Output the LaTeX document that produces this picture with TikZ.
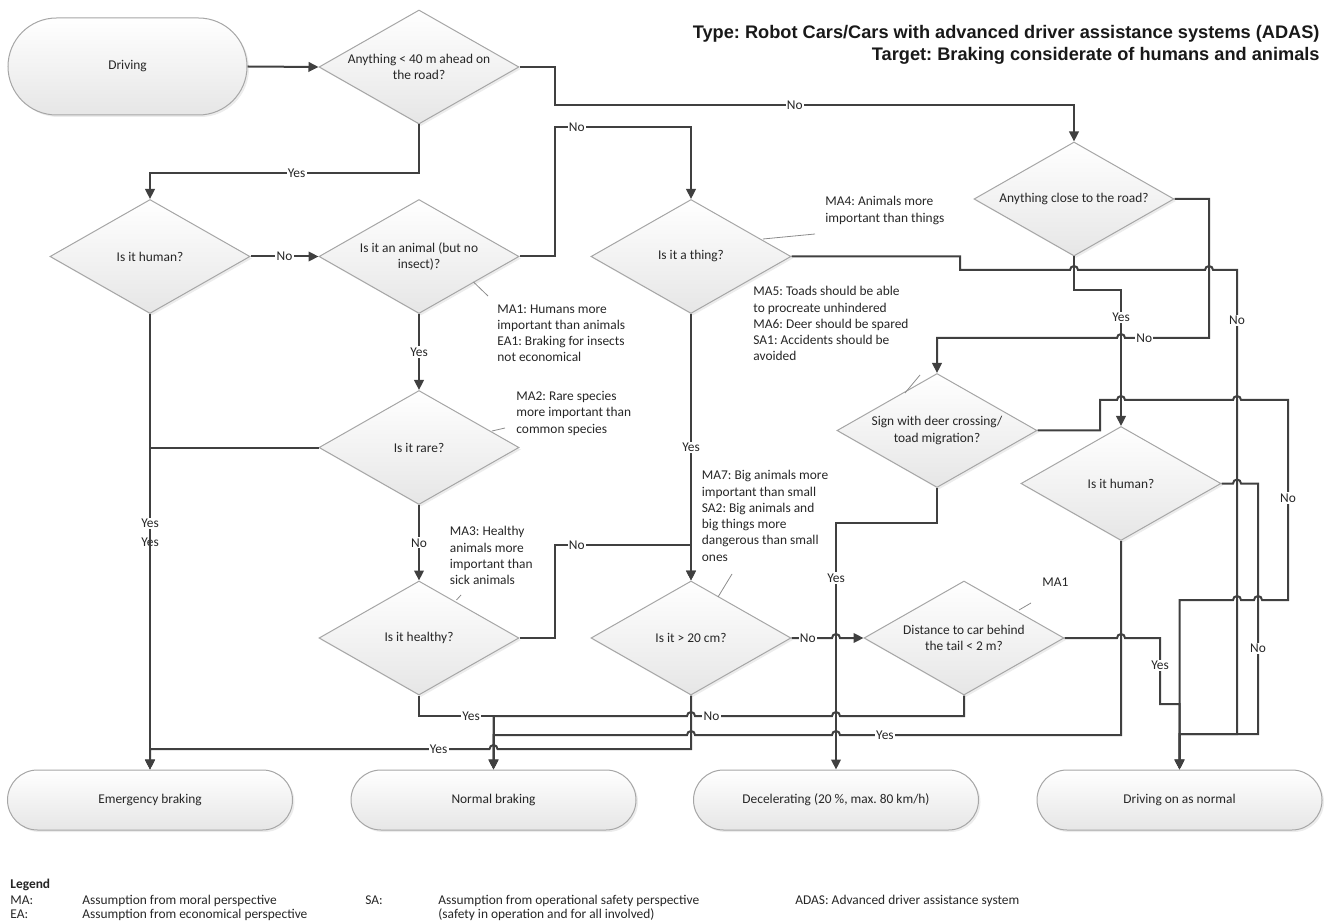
\documentclass[tikz,border=0pt]{standalone}
\usepackage{fontspec}
\setmainfont{Carlito}
\newfontfamily\titlefont{Liberation Sans}
\usetikzlibrary{shapes.geometric,shapes.misc,shadows,arrows.meta}
\frenchspacing

\definecolor{linegray}{HTML}{404040}
\definecolor{edgegray}{HTML}{A6A6A6}
\definecolor{fillgray}{HTML}{E6E6E6}
\definecolor{notegray}{HTML}{8C8C8C}

\begin{document}
\begin{tikzpicture}[x=0.5pt,y=-0.5pt,
			font=\fontsize{6.7pt}{8.15pt}\selectfont,text=black!85,
			box/.style={draw=edgegray,line width=0.5pt,top color=white,bottom color=fillgray,
				drop shadow={shadow xshift=1pt,shadow yshift=-1pt,opacity=0.15}},
			term/.style={box,rounded rectangle,minimum width=142.5pt,minimum height=30pt,inner sep=0pt},
			ask/.style={box,diamond,shape aspect=1.75,minimum width=100pt,minimum height=57pt,
				inner sep=0pt,align=center},
			flow/.style={draw=linegray,line width=1pt},
			arr/.style={flow,-{Triangle[length=5pt,width=4.8pt]}},
			lbl/.style={fill=white,inner sep=0.6pt},
			note/.style={anchor=north west,inner sep=0pt,align=left},
			callout/.style={draw=notegray,line width=0.4pt}]
			
			\useasboundingbox (0,0) rectangle (1331,924);
			
			% Title
			\node[anchor=north east,align=right,inner sep=0pt,text=black!90,
			font={\titlefont\bfseries\fontsize{9.1pt}{11pt}\selectfont}] (title) at (1320,25)
			{Type: Robot Cars/Cars with advanced driver assistance systems (ADAS)\\
				Target: Braking considerate of humans and animals};
			
			% Start and end states
			\node[term,minimum width=119.5pt,minimum height=48.5pt] (drv) at (127.5,66.5) {Driving};
			\node[term] (eb) at (150,800) {Emergency braking};
			\node[term] (nb) at (493.5,800) {Normal braking};
			\node[term] (dec) at (836,800) {Decelerating (20 \%, max. 80 km/h)};
			\node[term] (don) at (1179.5,800) {Driving on as normal};
			
			% Decisions
			\node[ask] (q1) at (419,67) {Anything < 40 m ahead on\\the road?};
			\node[ask] (q2) at (150,256.5) {Is it human?};
			\node[ask] (q3) at (419,256.5) {Is it an animal (but no\\insect)?};
			\node[ask] (q4) at (419,447.5) {Is it rare?};
			\node[ask] (q5) at (419,638) {Is it healthy?};
			\node[ask] (q6) at (691,256.5) {Is it a thing?};
			\node[ask] (q7) at (691,638) {Is it > 20 cm?};
			\node[ask] (q8) at (964,638) {Distance to car behind\\the tail < 2 m?};
			\node[ask] (q9) at (1074,199) {Anything close to the road?};
			\node[ask] (q10) at (937,430.5) {Sign with deer crossing/\\toad migration?};
			\node[ask] (q11) at (1121,483.5) {Is it human?};
			
			% Assumptions
			\node[note] (n1) at (497,304) {MA1: Humans more\\important than animals\\EA1: Braking for insects\\not economical};
			\node[note] (n2) at (516,391) {MA2: Rare species\\more important than\\common species};
			\node[note] (n3) at (449.5,526) {MA3: Healthy\\animals more\\important than\\sick animals};
			\node[note] (n4) at (825,196) {MA4: Animals more\\important than things};
			\node[note] (n5) at (753,286) {MA5: Toads should be able\\to procreate unhindered\\MA6: Deer should be spared\\SA1: Accidents should be\\avoided};
			\node[note] (n6) at (701.5,470) {MA7: Big animals more\\important than small\\SA2: Big animals and\\big things more\\dangerous than small\\ones};
			\node[note] (n7) at (1042,577) {MA1};
			\draw[callout] (473.5,282) -- (488,296);
			\draw[callout] (492,431) -- (505,428);
			\draw[callout] (456.5,600) -- (461,595);
			\draw[callout] (763,239) -- (815,234);
			\draw[callout] (905,393) -- (920,375);
			\draw[callout] (718,597) -- (732,574);
			\draw[callout] (1019,610) -- (1031,603);
			
			% Left part
			\draw[arr] (drv.east) -- (q1.west);
			\draw[arr] (q1.south) -- (419,173) -- node[lbl,pos=0.455]{Yes} (150,173) -- (q2.north);
			\draw[arr] (q1.east) -- (555,67) -- (555,105) -- node[lbl,pos=0.462]{No} (1074,105) -- (q9.north);
			\draw[arr] (q2.east) -- node[lbl]{No} (q3.west);
			\draw[arr] (q3.east) -- (555,256.5) -- (555,127) -- node[lbl,pos=0.16]{No} (691,127) -- (q6.north);
			\draw[arr] (q3.south) -- node[lbl]{Yes} (q4.north);
			\draw[arr] (q2.south) -- node[lbl]{Yes} (eb.north);
			\draw[arr] (q4.west) -- (150,447.5) -- node[lbl,pos=0.235]{Yes} (eb.north);
			\draw[arr] (q4.south) -- node[lbl]{No} (q5.north);
			\draw[arr] (q6.south) -- node[lbl]{Yes} (q7.north);
			\draw[arr] (q5.east) -- (555,638) -- (555,545) -- node[lbl,pos=0.16]{No} (691,545) -- (q7.north);
			\draw[arr] (q5.south) -- (419,716) -- node[lbl,pos=0.7]{Yes} (493.5,716) -- (nb.north);
			
			% Middle part
			\draw[arr] (q7.east) -- node[lbl,pos=0.4]{No} (832,638)
			arc[start angle=180,end angle=0,radius=2pt] -- (q8.west);
			\draw[arr] (q8.south) -- (964,716) -- (840,716)
			arc[start angle=0,end angle=180,radius=2pt] -- node[lbl,pos=0.88]{No} (695,716)
			arc[start angle=0,end angle=180,radius=2pt] -- (493.5,716) -- (nb.north);
			\draw[arr] (q11.south) -- (1121,735) -- node[lbl,pos=0.84]{Yes} (840,735)
			arc[start angle=0,end angle=180,radius=2pt] -- (695,735)
			arc[start angle=0,end angle=180,radius=2pt] -- (493.5,735) -- (nb.north);
			\draw[arr] (q7.south) -- (691,749) -- (497.5,749)
			arc[start angle=0,end angle=180,radius=2pt] -- node[lbl,pos=0.15]{Yes} (150,749) -- (eb.north);
			\draw[arr] (q10.south) -- (937,523) -- (836,523) -- node[lbl,pos=0.223]{Yes} (dec.north);
			
			% Right part
			\draw[arr] (q8.east) -- (1117,638) arc[start angle=180,end angle=0,radius=2pt]
			-- (1160,638) -- node[lbl,pos=0.42]{Yes} (1160,704) -- (1179.5,704) -- (don.north);
			\draw[arr] (q9.south) -- (1074,290) -- (1121,290) -- node[lbl,pos=0.2]{Yes} (q11.north);
			\draw[arr] (q9.east) -- (1209,199) -- (1209,338) -- node[lbl,pos=0.77]{No} (1125,338)
			arc[start angle=0,end angle=180,radius=2pt] -- (937,338) -- (q10.north);
			\draw[arr] (q10.east) -- (1100,430.5) -- (1100,400) -- (1117,400)
			arc[start angle=180,end angle=0,radius=2pt] -- (1233,400)
			arc[start angle=180,end angle=0,radius=2pt] -- (1288,400)
			-- node[lbl,pos=0.49]{No} (1288,600) -- (1262,600)
			arc[start angle=0,end angle=180,radius=2pt] -- (1241,600)
			arc[start angle=0,end angle=180,radius=2pt] -- (1179.5,600) -- (don.north);
			\draw[arr] (q6.east) -- (960,256.5) -- (960,270) -- (1070,270)
			arc[start angle=180,end angle=0,radius=2pt] -- (1205,270)
			arc[start angle=180,end angle=0,radius=2pt] -- (1237,270)
			-- node[lbl,pos=0.108]{No} (1237,734) -- (1179.5,734) -- (don.north);
			\draw[arr] (q11.east) -- (1233,483.5) arc[start angle=180,end angle=0,radius=2pt]
			-- (1258,483.5) -- node[lbl,pos=0.657]{No} (1258,734) -- (1179.5,734) -- (don.north);
			
			% Legend
			\node[anchor=base west,inner sep=0pt,font=\fontsize{6.7pt}{8pt}\selectfont\bfseries] (lg) at (10,888) {Legend};
			\foreach \nm/\xx/\yy/\txt in {lma/10/904/{MA:},
				lmat/82/904/{Assumption from moral perspective},
				lsa/365/904/{SA:},
				lsat/438/904/{Assumption from operational safety perspective},
				lad/795/904/{ADAS: Advanced driver assistance system},
				lea/10/918/{EA:},
				leat/82/918/{Assumption from economical perspective},
				lsatb/438/918/{(safety in operation and for all involved)}}
			\node[anchor=base west,inner sep=0pt] (\nm) at (\xx,\yy) {\txt};
			
		\end{tikzpicture}
\end{document}
